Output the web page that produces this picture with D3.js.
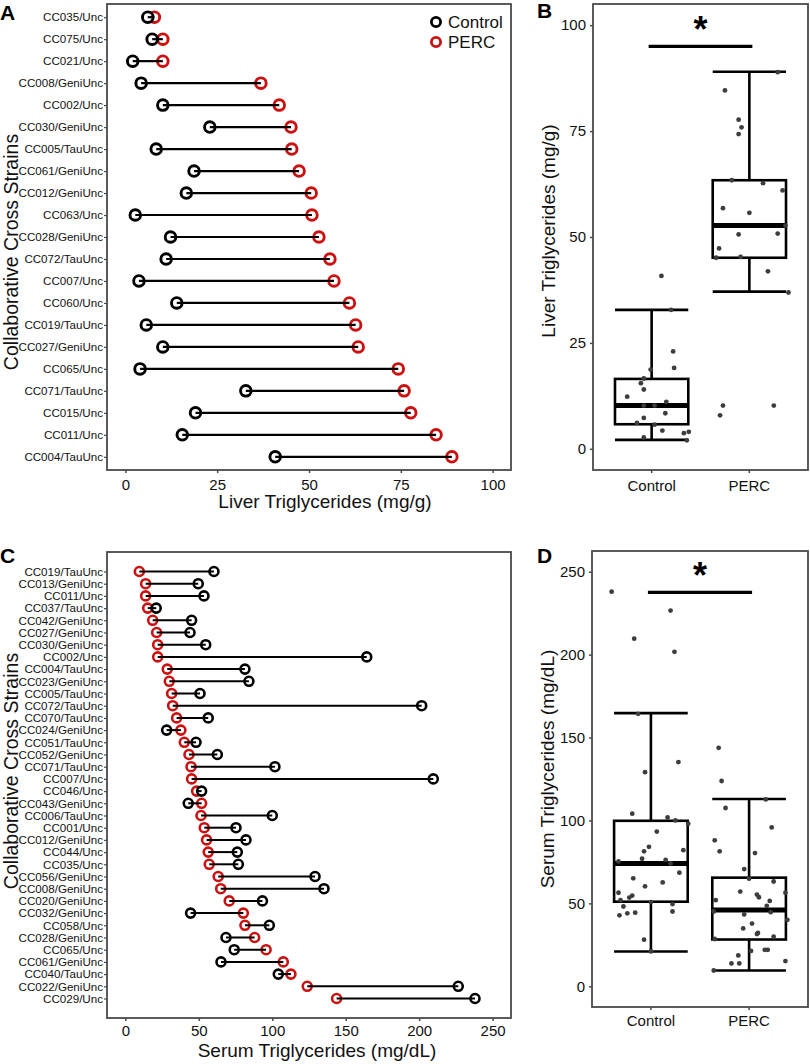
<!DOCTYPE html>
<html>
<head>
<meta charset="utf-8">
<script src="https://cdn.jsdelivr.net/npm/d3@7"></script>
<style>
  html, body { margin: 0; padding: 0; background: #fff; }
  svg { display: block; font-family: "Liberation Sans", Arial, Helvetica, sans-serif; }
</style>
</head>
<body>
<svg id="chart" width="810" height="1064"></svg>
<script>
// ---------------- DATA ----------------
const groups = ["Control", "PERC"];

// Panel A – liver triglycerides (mg/g), per strain
const strainsA = ["CC035/Unc","CC075/Unc","CC021/Unc","CC008/GeniUnc","CC002/Unc","CC030/GeniUnc",
  "CC005/TauUnc","CC061/GeniUnc","CC012/GeniUnc","CC063/Unc","CC028/GeniUnc","CC072/TauUnc",
  "CC007/Unc","CC060/Unc","CC019/TauUnc","CC027/GeniUnc","CC065/Unc","CC071/TauUnc",
  "CC015/Unc","CC011/Unc","CC004/TauUnc"];
const liverControl = [6.1, 7.3, 2.0, 4.3, 10.2, 23.0, 8.4, 18.7, 16.6, 2.7, 12.3, 11.1,
  3.7, 14.0, 5.7, 10.2, 4.0, 32.8, 19.1, 15.5, 40.8];
const liverPERC = [7.9, 10.2, 10.2, 36.9, 41.9, 45.1, 45.3, 47.3, 50.6, 50.8, 52.7, 55.7,
  56.8, 61.0, 62.7, 63.4, 74.3, 75.9, 77.7, 84.6, 88.9];

// Panel C – serum triglycerides (mg/dL), per strain
const strainsC = ["CC019/TauUnc","CC013/GeniUnc","CC011/Unc","CC037/TauUnc","CC042/GeniUnc",
  "CC027/GeniUnc","CC030/GeniUnc","CC002/Unc","CC004/TauUnc","CC023/GeniUnc","CC005/TauUnc",
  "CC072/TauUnc","CC070/TauUnc","CC024/GeniUnc","CC051/TauUnc","CC052/GeniUnc","CC071/TauUnc",
  "CC007/Unc","CC046/Unc","CC043/GeniUnc","CC006/TauUnc","CC001/Unc","CC012/GeniUnc",
  "CC044/Unc","CC035/Unc","CC056/GeniUnc","CC008/GeniUnc","CC020/GeniUnc","CC032/GeniUnc",
  "CC058/Unc","CC028/GeniUnc","CC065/Unc","CC061/GeniUnc","CC040/TauUnc","CC022/GeniUnc",
  "CC029/Unc"];
const serumControl = [60.3, 49.6, 53.5, 21.0, 45.1, 44.0, 54.7, 164.3, 81.4, 84.1, 50.8,
  201.7, 56.4, 28.1, 48.1, 62.6, 101.8, 209.6, 51.9, 42.8, 100.0, 75.3, 82.1, 76.2, 76.9,
  129.1, 135.2, 93.3, 44.4, 98.0, 68.5, 74.1, 65.1, 104.1, 226.6, 238.0];
const serumPERC = [9.5, 13.8, 13.8, 15.2, 18.6, 21.3, 22.0, 22.0, 28.5, 29.9, 31.5, 32.2,
  34.9, 37.8, 40.1, 43.3, 44.7, 45.1, 48.5, 51.9, 51.5, 53.7, 55.3, 56.4, 57.1, 63.2, 64.9,
  70.7, 80.3, 81.4, 88.0, 95.8, 107.5, 112.7, 123.8, 143.8];

// Jitter of the dots in B and D (category units, same order as strains)
const jitterBControl = [-0.15,-0.08,0.36,0.11,-0.08,0.22,0.14,-0.01,-0.08,-0.08,-0.25,0.15,
  0.33,-0.08,0.03,0.03,0.38,0.20,0.23,-0.11,0.10];
const jitterBPERC = [-0.30,-0.27,0.25,0.40,0.19,-0.34,-0.09,-0.31,-0.11,0.29,0.37,0.00,
  -0.27,0.34,0.14,-0.18,-0.11,-0.08,-0.11,-0.25,0.29];
const jitterDControl = [-0.06,0.22,-0.22,0.00,0.22,-0.24,-0.19,-0.13,-0.07,-0.02,0.00,0.24,
  -0.33,-0.07,-0.28,0.12,0.17,-0.17,-0.31,-0.32,0.25,-0.33,0.33,0.15,-0.09,-0.06,0.28,0.06,
  -0.16,0.38,0.29,0.20,-0.18,-0.19,0.20,-0.40];
const jitterDPERC = [-0.36,-0.18,-0.10,0.37,-0.11,0.02,0.16,0.19,-0.35,0.25,0.08,0.09,
  -0.06,0.03,0.39,-0.05,0.22,-0.36,0.18,-0.34,0.21,0.10,0.08,0.37,-0.09,0.25,0.00,-0.05,
  0.06,-0.30,-0.35,0.23,-0.24,0.17,-0.28,-0.31];

// Box statistics [min whisker, Q1, median, Q3, max whisker]
const boxLiver = [[2.1, 5.8, 10.2, 16.5, 32.8], [37.1, 45.1, 52.7, 63.4, 89.0]];
const boxSerum = [[21.0, 51.0, 74.0, 99.8, 164.7], [9.5, 28.2, 46.0, 65.5, 112.9]];
const sigLiver = 95;
const sigSerum = 237.5;

const ticksLiver = [0, 25, 50, 75, 100];
const ticksSerum = [0, 50, 100, 150, 200, 250];

// ---------------- STYLE ----------------
const RED = "#cc1010";
const FRAME = "#4a4a4a";
const DOT = "#3d3d3d";

const svg = d3.select("#chart");

function frame(g, x0, x1, y0, y1) {
  g.append("rect").attr("x", x0).attr("y", y0).attr("width", x1 - x0).attr("height", y1 - y0)
    .attr("fill", "none").attr("stroke", FRAME).attr("stroke-width", 1.8);
}

function panelLabel(t, x, y) {
  svg.append("text").attr("x", x).attr("y", y).text(t)
    .attr("font-size", 21).attr("font-weight", "bold").attr("fill", "#000");
}

// ---------------- DUMBBELL PANELS ----------------
function dumbbell(opts) {
  const { strains, control, perc, xDomain, ticks, x0, x1, y0, y1, pad, r, sw, lw,
          xTitle, xTitleX, xTitleY, tickY, yTitleY } = opts;
  const g = svg.append("g");
  const x = d3.scaleLinear().domain(xDomain).range([x0, x1]);
  const y = d3.scalePoint().domain(strains).range([y0, y1]).padding(pad);

  // axes
  const xAxis = d3.axisBottom(x).tickValues(ticks).tickSize(3).tickPadding(0).tickFormat(d3.format("d"));
  const gx = g.append("g").attr("transform", `translate(0,${y1})`).call(xAxis);
  gx.select(".domain").remove();
  gx.selectAll(".tick line").attr("stroke", FRAME).attr("stroke-width", 1.5);
  gx.selectAll(".tick text").attr("y", tickY - y1).attr("dy", 0)
    .attr("font-size", 15).attr("fill", "#111").attr("font-family", "Liberation Sans, Arial, sans-serif");

  const yAxis = d3.axisLeft(y).tickSize(3).tickPadding(1);
  const gy = g.append("g").attr("transform", `translate(${x0},0)`).call(yAxis);
  gy.select(".domain").remove();
  gy.selectAll(".tick line").attr("stroke", FRAME).attr("stroke-width", 1.2);
  gy.selectAll(".tick text").attr("font-size", 11.6).attr("fill", "#111")
    .attr("font-family", "Liberation Sans, Arial, sans-serif");

  const rows = strains.map((s, i) => ({ s, c: control[i], p: perc[i] }));

  // circles (white fill), then segments on top
  g.selectAll(".pc").data(rows).join("circle")
    .attr("cx", d => x(d.p)).attr("cy", d => y(d.s)).attr("r", r)
    .attr("fill", "#fff").attr("stroke", RED).attr("stroke-width", sw);
  g.selectAll(".cc").data(rows).join("circle")
    .attr("cx", d => x(d.c)).attr("cy", d => y(d.s)).attr("r", r)
    .attr("fill", "#fff").attr("stroke", "#000").attr("stroke-width", sw);
  g.selectAll(".seg").data(rows).join("line")
    .attr("x1", d => x(d.c)).attr("x2", d => x(d.p))
    .attr("y1", d => y(d.s)).attr("y2", d => y(d.s))
    .attr("stroke", "#000").attr("stroke-width", lw);

  frame(g, x0, x1, y0, y1);

  g.append("text").attr("x", xTitleX).attr("y", xTitleY).attr("text-anchor", "middle")
    .attr("font-size", 19).attr("fill", "#111").text(xTitle);
  g.append("text").attr("transform", `translate(18,${yTitleY}) rotate(-90)`)
    .attr("text-anchor", "middle").attr("font-size", 19.5).attr("fill", "#111")
    .text("Collaborative Cross Strains");
  return { x, y, g };
}

const A = dumbbell({
  strains: strainsA, control: liverControl, perc: liverPERC, xDomain: [-5, 105], ticks: ticksLiver,
  x0: 107, x1: 511, y0: 4, y1: 470, pad: 0.6, r: 5.3, sw: 2.9, lw: 2.2,
  xTitle: "Liver Triglycerides (mg/g)", xTitleX: 325, xTitleY: 508, tickY: 490, yTitleY: 252
});

// legend in A
const leg = A.g.append("g");
[["Control", "#000", 22], ["PERC", RED, 42]].forEach(([t, c, yy]) => {
  leg.append("circle").attr("cx", 436).attr("cy", yy).attr("r", 4.6)
    .attr("fill", "#fff").attr("stroke", c).attr("stroke-width", 2.8);
  leg.append("text").attr("x", 448).attr("y", yy + 6).attr("font-size", 17).attr("fill", "#111").text(t);
});

dumbbell({
  strains: strainsC, control: serumControl, perc: serumPERC, xDomain: [-12.5, 262.5], ticks: ticksSerum,
  x0: 107, x1: 511, y0: 552, y1: 1018, pad: 1.6, r: 4.5, sw: 2.6, lw: 2,
  xTitle: "Serum Triglycerides (mg/dL)", xTitleX: 317, xTitleY: 1057, tickY: 1036, yTitleY: 771
});

// ---------------- BOX PANELS ----------------
function boxPanel(opts) {
  const { control, perc, jitC, jitP, stats, yDomain, ticks, x0, x1, y0, y1, sig,
          yTitle, yTitleY, labY } = opts;
  const g = svg.append("g");
  const y = d3.scaleLinear().domain(yDomain).range([y1, y0]);
  // discrete category positions with 0.6-unit expansion on each side
  const unit = (x1 - x0) / 2.2;
  const cx = d => x0 + unit * (0.6 + groups.indexOf(d));

  const yAxis = d3.axisLeft(y).tickValues(ticks).tickSize(3).tickPadding(4);
  const gy = g.append("g").attr("transform", `translate(${x0},0)`).call(yAxis);
  gy.select(".domain").remove();
  gy.selectAll(".tick line").attr("stroke", FRAME).attr("stroke-width", 1.5);
  gy.selectAll(".tick text").attr("font-size", 15).attr("fill", "#111")
    .attr("font-family", "Liberation Sans, Arial, sans-serif");

  groups.forEach(gname => {
    g.append("line").attr("x1", cx(gname)).attr("x2", cx(gname)).attr("y1", y1).attr("y2", y1 + 3)
      .attr("stroke", FRAME).attr("stroke-width", 1.5);
    g.append("text").attr("x", cx(gname)).attr("y", labY).attr("text-anchor", "middle")
      .attr("font-size", 15).attr("fill", "#111").text(gname);
  });

  const bw = unit * 0.75;
  stats.forEach((s, i) => {
    const c = cx(groups[i]);
    const [mn, q1, md, q3, mx] = s;
    g.append("line").attr("x1", c).attr("x2", c).attr("y1", y(q3)).attr("y2", y(mx))
      .attr("stroke", "#000").attr("stroke-width", 2.6);
    g.append("line").attr("x1", c).attr("x2", c).attr("y1", y(q1)).attr("y2", y(mn))
      .attr("stroke", "#000").attr("stroke-width", 2.6);
    [mn, mx].forEach(v => g.append("line").attr("x1", c - bw / 2).attr("x2", c + bw / 2)
      .attr("y1", y(v)).attr("y2", y(v)).attr("stroke", "#000").attr("stroke-width", 2.6));
    g.append("rect").attr("x", c - bw / 2).attr("width", bw).attr("y", y(q3)).attr("height", y(q1) - y(q3))
      .attr("fill", "#fff").attr("stroke", "#000").attr("stroke-width", 2.6);
    g.append("line").attr("x1", c - bw / 2).attr("x2", c + bw / 2).attr("y1", y(md)).attr("y2", y(md))
      .attr("stroke", "#000").attr("stroke-width", 5);
  });

  const pts = control.map((v, i) => ({ g: "Control", v, j: jitC[i] }))
    .concat(perc.map((v, i) => ({ g: "PERC", v, j: jitP[i] })));
  g.selectAll(".dot").data(pts).join("circle")
    .attr("cx", d => cx(d.g) + d.j * unit).attr("cy", d => y(d.v)).attr("r", 2.4)
    .attr("fill", DOT);

  // significance
  g.append("line").attr("x1", cx("Control") - 3).attr("x2", cx("PERC") + 3)
    .attr("y1", y(sig)).attr("y2", y(sig)).attr("stroke", "#000").attr("stroke-width", 3.2);
  g.append("text").attr("x", (cx("Control") + cx("PERC")) / 2).attr("y", y(sig) - 4)
    .attr("text-anchor", "middle").attr("font-size", 36).attr("font-weight", "bold").text("*");

  frame(g, x0, x1, y0, y1);

  g.append("text").attr("transform", `translate(${x0 - 38},${yTitleY}) rotate(-90)`)
    .attr("text-anchor", "middle").attr("font-size", 19).attr("fill", "#111").text(yTitle);
}

boxPanel({
  control: liverControl, perc: liverPERC, jitC: jitterBControl, jitP: jitterBPERC, stats: boxLiver,
  yDomain: [-5, 105], ticks: ticksLiver, x0: 593, x1: 808, y0: 4, y1: 470, sig: sigLiver,
  yTitle: "Liver Triglycerides (mg/g)", yTitleY: 231, labY: 491
});
boxPanel({
  control: serumControl, perc: serumPERC, jitC: jitterDControl, jitP: jitterDPERC, stats: boxSerum,
  yDomain: [-12.5, 262.5], ticks: ticksSerum, x0: 592, x1: 808, y0: 551, y1: 1007, sig: sigSerum,
  yTitle: "Serum Triglycerides (mg/dL)", yTitleY: 769, labY: 1026
});

panelLabel("A", 0, 20);
panelLabel("B", 537, 18);
panelLabel("C", 0, 563);
panelLabel("D", 537, 563);
</script>
</body>
</html>
